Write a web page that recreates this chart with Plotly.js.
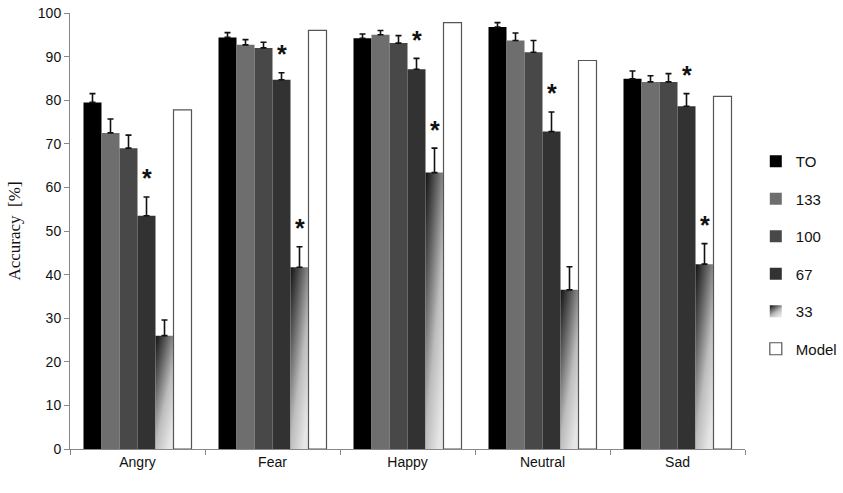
<!DOCTYPE html>
<html>
<head>
<meta charset="utf-8">
<script src="https://cdn.plot.ly/plotly-3.0.1.min.js"></script>
<style>html,body{margin:0;padding:0;background:#fff;}#chart{width:843px;height:493px;}</style>
</head>
<body>
<div id="chart"></div>
<script>
const categories = ["Angry", "Fear", "Happy", "Neutral", "Sad"];
const seriesNames = ["TO", "133", "100", "67", "33", "Model"];
const valTO    = [79.5, 94.4, 94.2, 96.8, 84.9];
const val133   = [72.5, 92.7, 95.0, 93.7, 84.2];
const val100   = [69.0, 92.0, 93.1, 91.0, 84.2];
const val67    = [53.5, 84.7, 87.1, 72.8, 78.6];
const val33    = [26.0, 41.7, 63.4, 36.5, 42.4];
const valModel = [77.8, 96.0, 97.8, 89.1, 80.9];
const errTO    = [2.0, 1.1, 1.0, 1.0, 1.8];
const err133   = [3.2, 1.2, 1.0, 1.7, 1.4];
const err100   = [3.0, 1.3, 1.7, 2.7, 1.9];
const err67    = [4.3, 1.6, 2.5, 4.5, 2.9];
const err33    = [3.6, 4.7, 5.6, 5.3, 4.7];
// significance markers: [series index, category index]
const sigMarks = [[3,0],[3,1],[3,2],[3,3],[3,4],[4,1],[4,2],[4,4]];

const values = [valTO, val133, val100, val67, val33, valModel];
const errors = [errTO, err133, err100, err67, err33, null];
const colors = ["#000000", "#6e6e6e", "#484848", "#323232", "#8c8c8c", "#ffffff"];

const traces = seriesNames.map((name, i) => {
  const t = {
    type: "bar",
    name: name,
    x: categories,
    y: values[i],
    legendgroup: "g" + i,
    marker: {color: colors[i], line: {width: i === 5 ? 1.2 : 0, color: "#555555"}},
    hoverinfo: "y"
  };
  if (errors[i]) {
    t.error_y = {type: "data", symmetric: false, array: errors[i],
      arrayminus: errors[i].map(() => 0), color: "#111111", thickness: 1.6, width: 3};
  }
  return t;
});

const nS = seriesNames.length;
const groupW = 0.8;
const annotations = sigMarks.map(([s, c]) => ({
  x: c - groupW / 2 + groupW / nS * (s + 0.5),
  y: values[s][c] + errors[s][c] + 0.6,
  xref: "x", yref: "y",
  text: "<b>*</b>", showarrow: false,
  yanchor: "bottom",
  font: {family: "Liberation Sans, Arial, sans-serif", size: 25, color: "#111"}
}));

const layout = {
  width: 843, height: 493,
  margin: {l: 70, r: 98, t: 13, b: 44, autoexpand: false},
  paper_bgcolor: "#ffffff", plot_bgcolor: "#ffffff",
  barmode: "group", bargap: 0.2, bargroupgap: 0,
  showlegend: true,
  legend: {x: 1.016, xanchor: "left", y: 0.445, yanchor: "middle",
    font: {family: "Liberation Sans, Arial, sans-serif", size: 15, color: "#111"},
    tracegroupgap: 15, itemwidth: 30, traceorder: "grouped"},
  xaxis: {type: "category", showline: true, linecolor: "#888", linewidth: 1,
    ticks: "outside", tickson: "boundaries", ticklen: 5, tickcolor: "#888",
    showgrid: false, zeroline: false,
    tickfont: {family: "Liberation Sans, Arial, sans-serif", size: 14, color: "#111"}},
  yaxis: {range: [0, 100], dtick: 10, showline: true, linecolor: "#888", linewidth: 1,
    ticks: "outside", ticklen: 5, tickcolor: "#888", showgrid: false, zeroline: false,
    tickfont: {family: "Liberation Sans, Arial, sans-serif", size: 14, color: "#111"},
    title: {text: "Accuracy  [%]", standoff: 12,
      font: {family: "Liberation Serif, Times New Roman, serif", size: 17, color: "#111"}}},
  annotations: annotations
};

const gd = document.getElementById("chart");
function applyGradient() {
  const svg = gd.querySelector("svg.main-svg");
  if (!svg) return;
  let defs = svg.querySelector("defs");
  if (!defs) { defs = document.createElementNS("http://www.w3.org/2000/svg", "defs"); svg.insertBefore(defs, svg.firstChild); }
  if (!svg.querySelector("#grad33")) {
    const g = document.createElementNS("http://www.w3.org/2000/svg", "linearGradient");
    g.setAttribute("id", "grad33");
    g.setAttribute("x1", "0"); g.setAttribute("y1", "0");
    g.setAttribute("x2", "0.7"); g.setAttribute("y2", "1");
    [["0", "#111111"], ["0.3", "#5e5e5e"], ["0.65", "#bdbdbd"], ["1", "#e6e6e6"]].forEach(([o, c]) => {
      const st = document.createElementNS("http://www.w3.org/2000/svg", "stop");
      st.setAttribute("offset", o); st.setAttribute("stop-color", c);
      g.appendChild(st);
    });
    defs.appendChild(g);
  }
  const barTraces = gd.querySelectorAll(".barlayer .trace");
  if (barTraces[4]) barTraces[4].querySelectorAll("path").forEach(p => { p.style.fill = "url(#grad33)"; });
  const legTraces = gd.querySelectorAll(".legend .traces");
  if (legTraces[4]) legTraces[4].querySelectorAll(".legendpoints path").forEach(p => { p.style.fill = "url(#grad33)"; });
}
Plotly.newPlot(gd, traces, layout, {displayModeBar: false, responsive: false}).then(() => {
  applyGradient();
  gd.on("plotly_afterplot", applyGradient);
});
</script>
</body>
</html>
